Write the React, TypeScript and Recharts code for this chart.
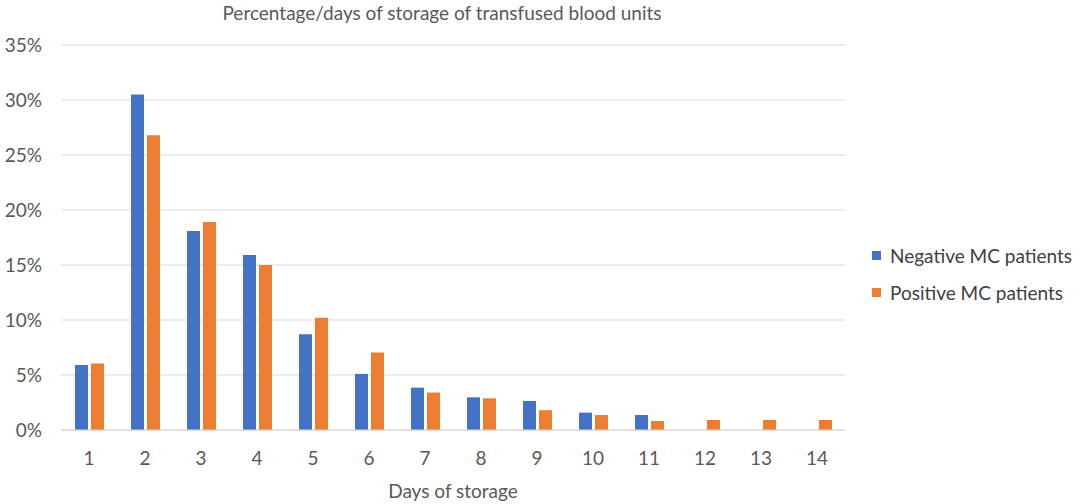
import React from "react";
import { BarChart, Bar, XAxis, YAxis, CartesianGrid } from "recharts";

// Days of storage (categories)
const days = ["1", "2", "3", "4", "5", "6", "7", "8", "9", "10", "11", "12", "13", "14"];

// Percentage of transfused units per day of storage
const negativeMC = [5.9, 30.5, 18.1, 15.9, 8.7, 5.1, 3.85, 2.97, 2.64, 1.58, 1.36, 0, 0, 0];
const positiveMC = [6.05, 26.8, 18.9, 15.0, 10.2, 7.05, 3.4, 2.88, 1.8, 1.36, 0.82, 0.91, 0.91, 0.91];

const yTicks = [0, 5, 10, 15, 20, 25, 30, 35];

const seriesNames = ["Negative MC patients", "Positive MC patients"];

const FONT = "Lato, 'Open Sans', sans-serif";
const TEXT = "#595959";
const BLUE = "#4472C4";
const ORANGE = "#ED7D31";

const chartData = days.map((d, i) => ({
  day: d,
  neg: negativeMC[i],
  pos: positiveMC[i],
}));

export default function App() {
  return (
    <div style={{ position: "absolute", left: 0, top: 0, width: 1084, height: 504, background: "#fff" }}>
      {/* Title */}
      <div
        style={{
          position: "absolute",
          left: 0,
          top: 1,
          width: 884,
          textAlign: "center",
          fontFamily: FONT,
          fontSize: 19,
          color: TEXT,
        }}
      >
        Percentage/days of storage of transfused blood units
      </div>

      <BarChart
        width={1084}
        height={504}
        data={chartData}
        margin={{ top: 45, right: 239, bottom: 0, left: 0 }}
        barGap={3}
        barSize={13}
      >
        <CartesianGrid vertical={false} stroke="#d9d9d9" />
        <XAxis
          dataKey="day"
          axisLine={{ stroke: "#d9d9d9" }}
          tickLine={false}
          height={74}
          tick={{ fill: TEXT, fontSize: 19, fontFamily: FONT }}
          tickMargin={16}
          label={{
            value: "Days of storage",
            position: "insideBottom",
            offset: 6,
            fill: TEXT,
            fontSize: 19,
            fontFamily: FONT,
          }}
        />
        <YAxis
          domain={[0, 35]}
          ticks={yTicks}
          width={61}
          axisLine={false}
          tickLine={false}
          interval={0}
          tickMargin={13}
          tickFormatter={(v) => `${v}%`}
          tick={{ fill: TEXT, fontSize: 19, fontFamily: FONT }}
        />
        <Bar dataKey="neg" name={seriesNames[0]} fill={BLUE} isAnimationActive={false} />
        <Bar dataKey="pos" name={seriesNames[1]} fill={ORANGE} isAnimationActive={false} />
      </BarChart>

      {/* Legend */}
      <div
        style={{
          position: "absolute",
          left: 872,
          top: 237,
          fontFamily: FONT,
          fontSize: 19,
          color: "#404040",
        }}
      >
        {seriesNames.map((name, i) => (
          <div key={name} style={{ display: "flex", alignItems: "center", height: 37 }}>
            <div
              style={{ width: 9, height: 9, backgroundColor: i === 0 ? BLUE : ORANGE, marginRight: 9 }}
            />
            <span>{name}</span>
          </div>
        ))}
      </div>
    </div>
  );
}
